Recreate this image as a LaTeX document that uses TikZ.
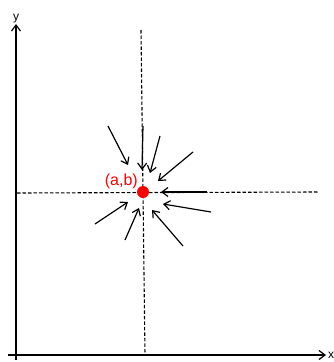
\documentclass[tikz,border=0pt]{standalone}
\usepackage{fontspec}
\setmainfont{Liberation Sans}
\usetikzlibrary{arrows.meta,positioning}

\begin{document}
\begin{tikzpicture}[
    x=1pt, y=-1pt,
    axis/.style={line width=1.2pt, -{Straight Barb[length=6pt,width=9pt]}},
    guide/.style={line width=1.1pt, dash pattern=on 3.5pt off 2pt},
    inflow/.style={line width=1.2pt, -{Straight Barb[length=6pt,width=9pt]}},
    point/.style={circle, fill=red, inner sep=0pt, minimum size=12pt},
    lab/.style={font=\fontsize{12}{14}\selectfont, inner sep=1pt}
]
\useasboundingbox (0,0) rectangle (334,362);

% Axes
\coordinate (xstart) at (8,355);
\coordinate (xend) at (326,355);
\coordinate (ystart) at (16,360);
\coordinate (yend) at (16,24);
\draw[axis] (xstart) -- (xend);
\draw[axis] (ystart) -- (yend);
\node[lab, right=1pt of xend] (xlab) {x};
\node[lab, above=0pt of yend] (ylab) {y};

% Dashed guide lines through the point
\coordinate (vtop) at (141,30);
\coordinate (vbot) at (145,355);
\coordinate (hleft) at (17,193);
\coordinate (hright) at (318,192);
\draw[guide] (vtop) -- (vbot);
\draw[guide] (hleft) -- (hright);

% The point (a,b)
\node[point] (ab) at (143,192) {};
\node[text=red, font=\fontsize{16}{18}\selectfont, inner sep=0pt, anchor=south east] (ablab) at (138,189) {(a,b)};

% Arrows converging to the point
\coordinate (t1) at (108,126);  \coordinate (h1) at (128,165);
\coordinate (t2) at (143,126);  \coordinate (h2) at (142,170);
\coordinate (t3) at (160,136);  \coordinate (h3) at (150,173);
\coordinate (t4) at (193,152);  \coordinate (h4) at (158,181);
\coordinate (t5) at (207,192);  \coordinate (h5) at (161,192);
\coordinate (t6) at (211,212);  \coordinate (h6) at (163,204);
\coordinate (t7) at (183,246);  \coordinate (h7) at (152,210);
\coordinate (t8) at (125,240);  \coordinate (h8) at (139,208);
\coordinate (t9) at (95,224);   \coordinate (h9) at (128,202);
\foreach \i in {1,...,9}
    \draw[inflow] (t\i) -- (h\i);

\end{tikzpicture}
\end{document}
